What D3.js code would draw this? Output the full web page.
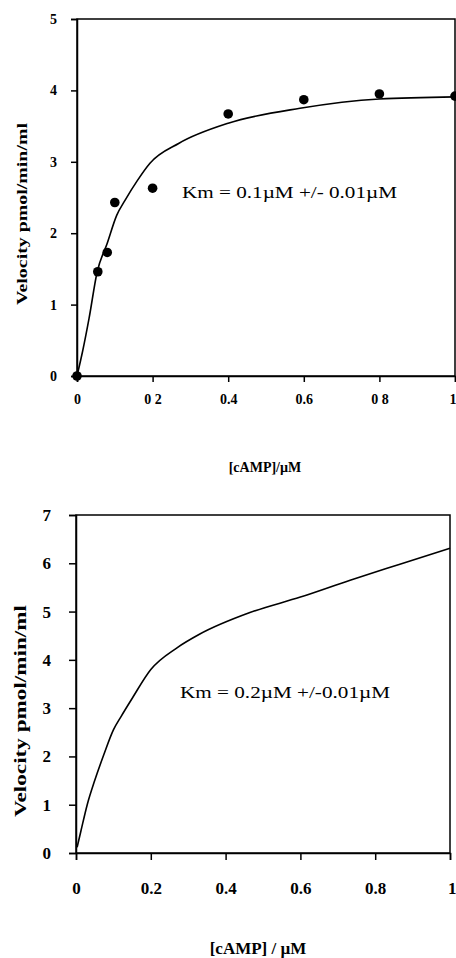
<!doctype html>
<html>
<head>
<meta charset="utf-8">
<title>cAMP kinetics</title>
<script src="https://cdn.jsdelivr.net/npm/d3@7/dist/d3.min.js"></script>
<style>
  body { margin: 0; background: #fff; }
  svg { display: block; }
  .tick text { font-family: "Liberation Serif", "Times New Roman", serif; font-weight: bold; }
  .title { font-family: "Liberation Serif", "Times New Roman", serif; font-weight: bold; }
  .km { font-family: "Liberation Serif", "Times New Roman", serif; }
</style>
</head>
<body>
<div id="chart-area"></div>
<script>
// top panel: measured points and fitted curve
var topConc = [0, 0.055, 0.08, 0.1, 0.2, 0.4, 0.6, 0.8, 1.0];
var topVel  = [0, 1.46, 1.73, 2.43, 2.63, 3.67, 3.87, 3.95, 3.92];
var topFitX = [0, 0.015, 0.032, 0.053, 0.08, 0.105, 0.127, 0.16, 0.193, 0.27, 0.4, 0.59, 0.8, 1.0];
var topFitY = [0, 0.35, 0.81, 1.45, 1.86, 2.25, 2.46, 2.74, 2.98, 3.26, 3.54, 3.75, 3.88, 3.91];

// bottom panel: fitted curve only
var botFitX = [0.003, 0.013, 0.03, 0.05, 0.075, 0.1, 0.12, 0.15, 0.2, 0.27, 0.33, 0.465, 0.6, 0.733, 0.866, 1.0];
var botFitY = [0.12, 0.45, 1.0, 1.5, 2.05, 2.55, 2.82, 3.2, 3.8, 4.25, 4.53, 4.98, 5.3, 5.65, 5.98, 6.31];

var xTicks = [0, 0.2, 0.4, 0.6, 0.8, 1];
var xTickLabels = ["0", "0 2", "0.4", "0.6", "0 8", "1"];
var xTickLabels2 = ["0", "0.2", "0.4", "0.6", "0.8", "1"];

var svg = d3.select("#chart-area").append("svg")
    .attr("width", 456).attr("height", 958);

function panel(opt) {
    var x = d3.scaleLinear().domain([0, 1]).range([opt.left, opt.right]);
    var y = d3.scaleLinear().domain([0, opt.ymax]).range([opt.bottom, opt.top]);
    var g = svg.append("g");

    // frame
    g.append("rect")
        .attr("x", opt.left).attr("y", opt.top)
        .attr("width", opt.right - opt.left).attr("height", opt.bottom - opt.top)
        .attr("fill", "none").attr("stroke", "#000").attr("stroke-width", 1.5);

    // x axis
    var xa = g.append("g").attr("transform", "translate(0," + opt.bottom + ")")
        .call(d3.axisBottom(x).tickValues(xTicks).tickSize(opt.tick).tickPadding(opt.xpad)
            .tickFormat(function(d, i){ return opt.xlabels[i]; }));
    xa.select(".domain").attr("stroke-width", 1.5);
    xa.selectAll(".tick line").attr("stroke-width", 1.5);
    xa.selectAll("text").attr("font-size", opt.fs + "px").attr("fill", "#000");
    // keep the last label inside the page
    xa.selectAll(".tick text").filter(function(d){ return d === 1; })
        .attr("text-anchor", "end").attr("dx", 456 - opt.right);

    // y axis
    var ya = g.append("g").attr("transform", "translate(" + opt.left + ",0)")
        .call(d3.axisLeft(y).ticks(opt.ymax).tickSize(opt.tick).tickPadding(opt.ypad));
    ya.select(".domain").attr("stroke-width", 1.5);
    ya.selectAll(".tick line").attr("stroke-width", 1.5);
    ya.selectAll("text").attr("font-size", opt.fs + "px").attr("fill", "#000");

    // fitted curve
    var line = d3.line()
        .x(function(d){ return x(d[0]); })
        .y(function(d){ return y(d[1]); })
        .curve(d3.curveMonotoneX);
    g.append("path")
        .datum(d3.zip(opt.fitX, opt.fitY))
        .attr("d", line)
        .attr("fill", "none").attr("stroke", "#000").attr("stroke-width", 1.6);

    // points
    if (opt.ptX) {
        g.selectAll("circle").data(d3.zip(opt.ptX, opt.ptY)).enter()
            .append("circle")
            .attr("cx", function(d){ return x(d[0]); })
            .attr("cy", function(d){ return y(d[1]); })
            .attr("r", 4.8).attr("fill", "#000");
    }

    // labels
    g.append("text").attr("class", "km")
        .attr("x", opt.kmX).attr("y", opt.kmY).attr("font-size", "17px")
        .attr("dominant-baseline", "central")
        .attr("textLength", opt.kmW).attr("lengthAdjust", "spacingAndGlyphs")
        .text(opt.km);

    g.append("text").attr("class", "title")
        .attr("x", opt.xtX).attr("y", opt.xtY).attr("text-anchor", "middle")
        .attr("dominant-baseline", "central").attr("font-size", opt.tfs + "px")
        .text(opt.xtitle);

    g.append("text").attr("class", "title")
        .attr("transform", "translate(" + opt.ytX + "," + opt.ytY + ") rotate(-90)")
        .attr("text-anchor", "middle").attr("dominant-baseline", "central")
        .attr("font-size", opt.tfs + "px")
        .attr("textLength", opt.ytW).attr("lengthAdjust", "spacingAndGlyphs")
        .text(opt.ytitle);
}

panel({
    left: 77, right: 455, top: 19, bottom: 376, ymax: 5,
    tick: 6, xpad: 12, ypad: 14, fs: 14, tfs: 14,
    xlabels: xTickLabels,
    fitX: topFitX, fitY: topFitY, ptX: topConc, ptY: topVel,
    km: "Km = 0.1\u00b5M +/- 0.01\u00b5M", kmX: 182, kmY: 192, kmW: 215,
    xtitle: "[cAMP]/\u00b5M", xtX: 265, xtY: 467,
    ytitle: "Velocity pmol/min/ml", ytX: 22, ytY: 214, ytW: 182
});

panel({
    left: 76, right: 450, top: 515, bottom: 853, ymax: 7,
    tick: 7, xpad: 22, ypad: 18, fs: 17, tfs: 17,
    xlabels: xTickLabels2,
    fitX: botFitX, fitY: botFitY,
    km: "Km = 0.2\u00b5M +/-0.01\u00b5M", kmX: 180, kmY: 692, kmW: 210,
    xtitle: "[cAMP] / \u00b5M", xtX: 258, xtY: 948,
    ytitle: "Velocity  pmol/min/ml", ytX: 20, ytY: 711, ytW: 212
});
</script>
</body>
</html>
